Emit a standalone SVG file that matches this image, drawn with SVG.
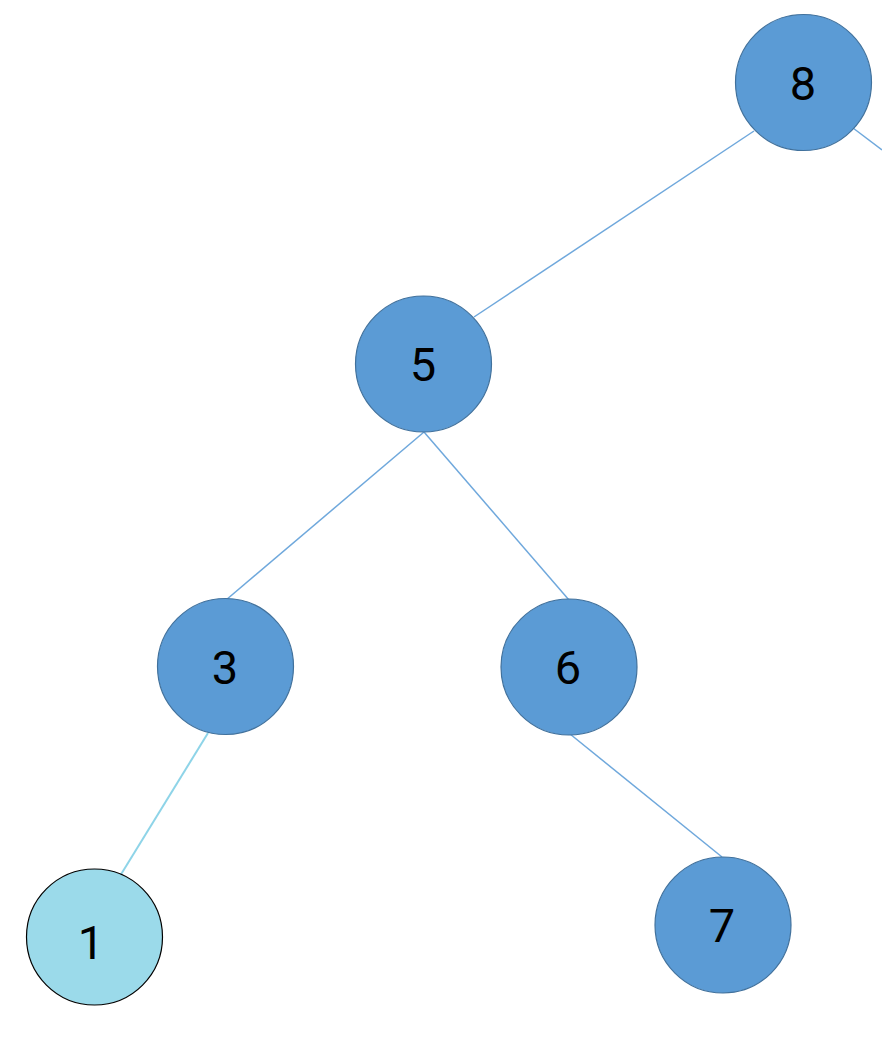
<svg xmlns="http://www.w3.org/2000/svg" width="882" height="1055" viewBox="0 0 882 1055">
<style>
.e{stroke:#6fa8dc;stroke-width:1.5;fill:none}
.e2{stroke:#8ed4e8;stroke-width:2;fill:none}
.n{fill:#5b9bd5;stroke:#41719c;stroke-width:1.2}
.l{fill:#9bdaea;stroke:#000;stroke-width:1.2}
text{font-family:Roboto,"Liberation Sans",sans-serif;font-size:47px;text-anchor:middle;fill:#000}
</style>
<rect width="882" height="1055" fill="#fff"/>
<g id="connectors">
<line class="e" x1="754" y1="131" x2="474" y2="317"/>
<line class="e" x1="853" y1="128" x2="882" y2="150"/>
<line class="e" x1="424" y1="432" x2="226" y2="600"/>
<line class="e" x1="424" y1="432" x2="569" y2="600"/>
<line class="e2" x1="208" y1="733" x2="120" y2="876"/>
<line class="e" x1="570" y1="734" x2="722" y2="857"/>
</g>
<g id="n8"><circle class="n" cx="803.5" cy="82.5" r="68"/><text x="803" y="100">8</text></g>
<g id="n5"><circle class="n" cx="423.5" cy="364" r="68"/><text x="423" y="381">5</text></g>
<g id="n3"><circle class="n" cx="225.5" cy="666.5" r="68"/><text x="225" y="684">3</text></g>
<g id="n6"><circle class="n" cx="569" cy="667" r="68"/><text x="568" y="684">6</text></g>
<g id="n1"><circle class="l" cx="94.5" cy="937" r="68"/><text x="91" y="959">1</text></g>
<g id="n7"><circle class="n" cx="723" cy="925" r="68"/><text x="722" y="942">7</text></g>
</svg>
